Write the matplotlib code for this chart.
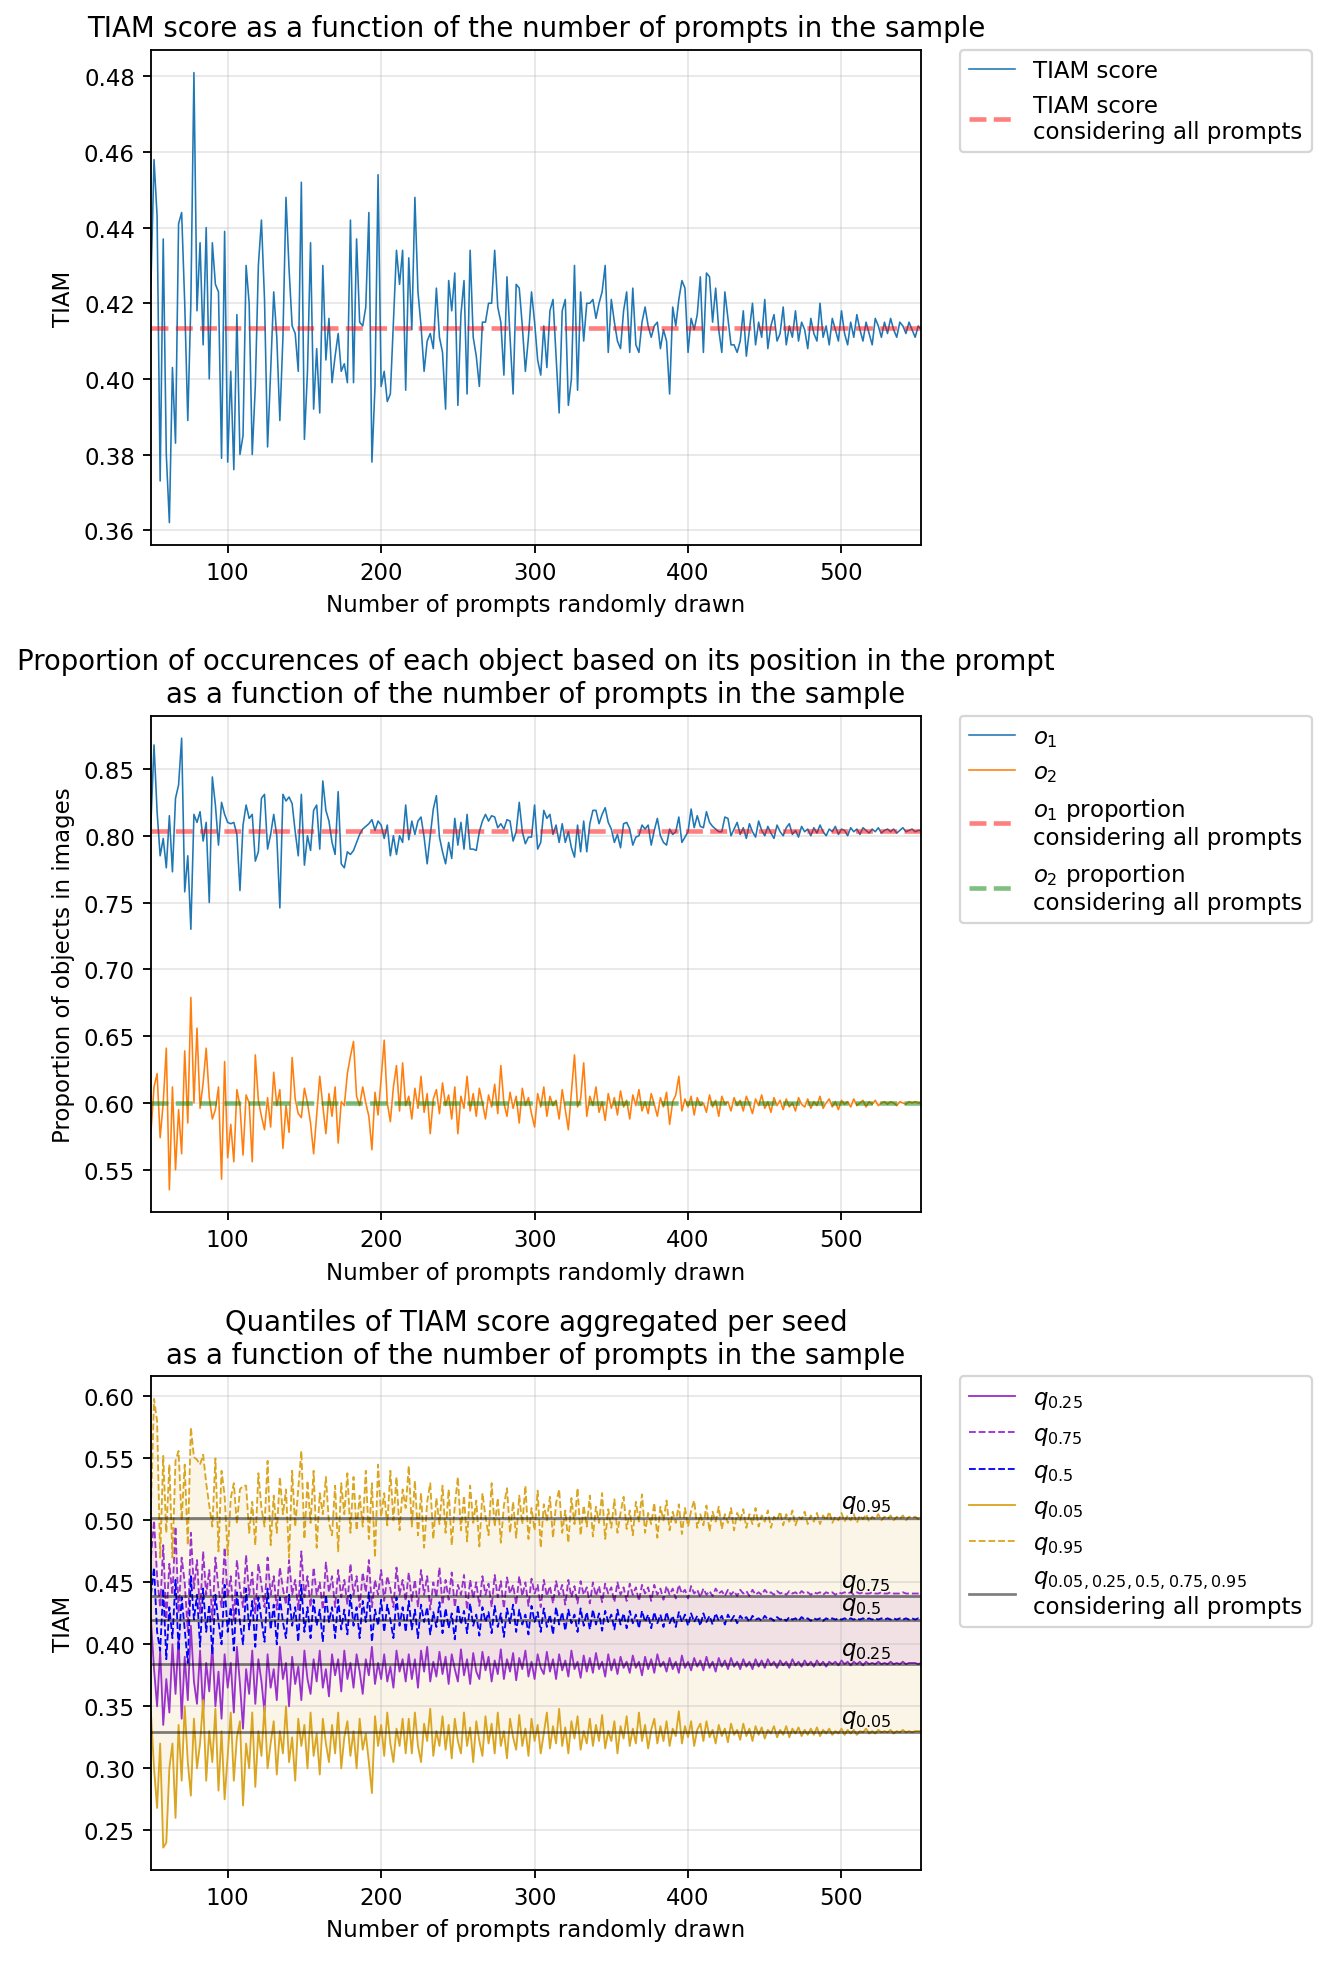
import numpy as np
import matplotlib
matplotlib.use("Agg")
import matplotlib.pyplot as plt

# === Data (one value every 2 prompts from 50) ===
START, STEP = 50, 2

tiam = [
    0.425, 0.458, 0.443, 0.373, 0.437, 0.380, 0.362, 0.403, 0.383, 0.441, 0.444, 0.420,
    0.389, 0.420, 0.481, 0.418, 0.436, 0.409, 0.440, 0.400, 0.436, 0.425, 0.423, 0.379,
    0.439, 0.378, 0.402, 0.376, 0.417, 0.380, 0.385, 0.430, 0.420, 0.380, 0.398, 0.430,
    0.442, 0.421, 0.382, 0.402, 0.423, 0.411, 0.389, 0.411, 0.448, 0.429, 0.414, 0.412,
    0.402, 0.452, 0.384, 0.402, 0.436, 0.392, 0.408, 0.391, 0.430, 0.405, 0.416, 0.399,
    0.406, 0.412, 0.402, 0.404, 0.399, 0.442, 0.399, 0.437, 0.415, 0.414, 0.419, 0.444,
    0.378, 0.398, 0.454, 0.398, 0.402, 0.394, 0.396, 0.415, 0.434, 0.425, 0.434, 0.397,
    0.432, 0.413, 0.448, 0.423, 0.414, 0.402, 0.410, 0.412, 0.408, 0.424, 0.411, 0.407,
    0.392, 0.426, 0.418, 0.428, 0.393, 0.417, 0.426, 0.396, 0.434, 0.411, 0.406, 0.398,
    0.415, 0.415, 0.420, 0.420, 0.434, 0.419, 0.415, 0.401, 0.427, 0.411, 0.396, 0.425,
    0.424, 0.414, 0.402, 0.411, 0.423, 0.415, 0.405, 0.401, 0.414, 0.403, 0.418, 0.421,
    0.406, 0.391, 0.418, 0.421, 0.393, 0.400, 0.430, 0.397, 0.423, 0.410, 0.420, 0.420,
    0.421, 0.416, 0.420, 0.423, 0.430, 0.407, 0.421, 0.415, 0.410, 0.408, 0.418, 0.423,
    0.407, 0.424, 0.409, 0.407, 0.415, 0.419, 0.414, 0.411, 0.414, 0.415, 0.408, 0.413,
    0.410, 0.396, 0.419, 0.414, 0.421, 0.426, 0.424, 0.407, 0.416, 0.413, 0.417, 0.427,
    0.407, 0.428, 0.427, 0.415, 0.424, 0.413, 0.407, 0.423, 0.416, 0.409, 0.409, 0.407,
    0.410, 0.418, 0.406, 0.413, 0.420, 0.409, 0.415, 0.411, 0.421, 0.408, 0.414, 0.417,
    0.410, 0.412, 0.419, 0.409, 0.414, 0.411, 0.418, 0.410, 0.415, 0.413, 0.408, 0.416,
    0.412, 0.410, 0.420, 0.411, 0.414, 0.409, 0.416, 0.413, 0.410, 0.418, 0.412, 0.409,
    0.415, 0.411, 0.417, 0.413, 0.410, 0.415, 0.412, 0.409, 0.416, 0.414, 0.411, 0.415,
    0.412, 0.416, 0.413, 0.411, 0.415, 0.414, 0.412, 0.415, 0.413, 0.411, 0.414, 0.413,
]
tiam_all = 0.4135

o1 = [
    0.810, 0.868, 0.818, 0.785, 0.798, 0.776, 0.815, 0.773, 0.828, 0.838, 0.873, 0.758,
    0.785, 0.730, 0.816, 0.810, 0.818, 0.796, 0.810, 0.750, 0.844, 0.823, 0.793, 0.825,
    0.816, 0.810, 0.809, 0.810, 0.801, 0.759, 0.808, 0.823, 0.813, 0.816, 0.781, 0.788,
    0.828, 0.831, 0.790, 0.801, 0.816, 0.800, 0.746, 0.831, 0.826, 0.829, 0.824, 0.803,
    0.785, 0.831, 0.778, 0.800, 0.789, 0.819, 0.823, 0.790, 0.841, 0.819, 0.811, 0.795,
    0.786, 0.833, 0.779, 0.776, 0.788, 0.786, 0.789, 0.795, 0.801, 0.805, 0.807, 0.809,
    0.812, 0.804, 0.811, 0.808, 0.798, 0.808, 0.785, 0.800, 0.786, 0.800, 0.795, 0.823,
    0.797, 0.811, 0.801, 0.811, 0.814, 0.799, 0.779, 0.800, 0.820, 0.830, 0.799, 0.788,
    0.779, 0.795, 0.783, 0.813, 0.793, 0.810, 0.790, 0.816, 0.790, 0.790, 0.789, 0.803,
    0.811, 0.816, 0.811, 0.815, 0.814, 0.806, 0.809, 0.805, 0.812, 0.811, 0.796, 0.803,
    0.825, 0.803, 0.794, 0.799, 0.799, 0.823, 0.790, 0.795, 0.819, 0.813, 0.816, 0.801,
    0.808, 0.795, 0.809, 0.795, 0.803, 0.791, 0.784, 0.808, 0.788, 0.811, 0.788, 0.809,
    0.819, 0.819, 0.809, 0.816, 0.821, 0.810, 0.805, 0.795, 0.801, 0.791, 0.809, 0.810,
    0.805, 0.793, 0.799, 0.800, 0.808, 0.805, 0.808, 0.793, 0.804, 0.813, 0.800, 0.795,
    0.793, 0.805, 0.801, 0.803, 0.814, 0.795, 0.799, 0.803, 0.820, 0.806, 0.815, 0.807,
    0.806, 0.818, 0.810, 0.807, 0.805, 0.803, 0.803, 0.814, 0.813, 0.800, 0.805, 0.810,
    0.801, 0.806, 0.798, 0.809, 0.803, 0.799, 0.811, 0.804, 0.800, 0.807, 0.802, 0.798,
    0.808, 0.803, 0.800, 0.806, 0.809, 0.801, 0.804, 0.799, 0.807, 0.803, 0.805, 0.800,
    0.806, 0.802, 0.808, 0.803, 0.800, 0.805, 0.803, 0.807, 0.801, 0.805, 0.804, 0.800,
    0.806, 0.803, 0.805, 0.801, 0.806, 0.804, 0.802, 0.805, 0.803, 0.806, 0.802, 0.804,
    0.805, 0.803, 0.805, 0.802, 0.804, 0.806, 0.803, 0.804, 0.805, 0.803, 0.804, 0.804,
]
o2 = [
    0.578, 0.612, 0.622, 0.574, 0.600, 0.641, 0.535, 0.612, 0.550, 0.595, 0.562, 0.639,
    0.585, 0.679, 0.600, 0.656, 0.596, 0.615, 0.641, 0.604, 0.588, 0.595, 0.612, 0.543,
    0.631, 0.559, 0.584, 0.556, 0.610, 0.598, 0.561, 0.606, 0.600, 0.556, 0.636, 0.602,
    0.590, 0.580, 0.604, 0.582, 0.623, 0.598, 0.610, 0.566, 0.598, 0.578, 0.634, 0.603,
    0.592, 0.589, 0.611, 0.600, 0.585, 0.562, 0.591, 0.620, 0.598, 0.577, 0.607, 0.590,
    0.612, 0.570, 0.601, 0.598, 0.622, 0.635, 0.646, 0.605, 0.598, 0.612, 0.600, 0.590,
    0.565, 0.608, 0.591, 0.618, 0.647, 0.600, 0.586, 0.612, 0.628, 0.594, 0.630, 0.598,
    0.605, 0.588, 0.611, 0.596, 0.620, 0.593, 0.607, 0.577, 0.603, 0.610, 0.592, 0.615,
    0.598, 0.606, 0.588, 0.612, 0.577, 0.605, 0.596, 0.620, 0.594, 0.607, 0.590, 0.611,
    0.600, 0.588, 0.606, 0.597, 0.614, 0.592, 0.628, 0.600, 0.590, 0.608, 0.596, 0.605,
    0.585, 0.611, 0.598, 0.604, 0.592, 0.582, 0.607, 0.597, 0.612, 0.590, 0.605, 0.598,
    0.602, 0.588, 0.610, 0.595, 0.580, 0.608, 0.636, 0.597, 0.603, 0.630, 0.590, 0.605,
    0.598, 0.612, 0.593, 0.601, 0.587, 0.607, 0.596, 0.604, 0.591, 0.609, 0.597, 0.602,
    0.588, 0.606, 0.598, 0.610, 0.594, 0.601, 0.592, 0.607, 0.599, 0.590, 0.604, 0.597,
    0.608, 0.584, 0.601, 0.606, 0.620, 0.594, 0.603, 0.597, 0.605, 0.591, 0.604, 0.598,
    0.600, 0.593, 0.606, 0.597, 0.602, 0.590, 0.605, 0.599, 0.601, 0.594, 0.604, 0.598,
    0.602, 0.594, 0.605, 0.599, 0.592, 0.603, 0.598, 0.606, 0.596, 0.601, 0.593, 0.604,
    0.598, 0.602, 0.595, 0.603, 0.597, 0.600, 0.594, 0.604, 0.599, 0.597, 0.603, 0.596,
    0.601, 0.598, 0.605, 0.596, 0.600, 0.603, 0.597, 0.601, 0.595, 0.602, 0.599, 0.601,
    0.597, 0.603, 0.598, 0.600, 0.602, 0.597, 0.601, 0.599, 0.602, 0.598, 0.600, 0.601,
    0.599, 0.601, 0.600, 0.598, 0.601, 0.600, 0.599, 0.601, 0.600, 0.601, 0.600, 0.600,
]
o1_all = 0.8035
o2_all = 0.600

q05 = [
    0.345, 0.300, 0.268, 0.320, 0.236, 0.240, 0.300, 0.320, 0.260, 0.335, 0.290, 0.350,
    0.305, 0.278, 0.340, 0.300, 0.320, 0.355, 0.290, 0.330, 0.305, 0.348, 0.282, 0.330,
    0.275, 0.310, 0.345, 0.290, 0.325, 0.338, 0.270, 0.320, 0.300, 0.345, 0.285, 0.330,
    0.310, 0.350, 0.300, 0.320, 0.338, 0.295, 0.330, 0.312, 0.350, 0.305, 0.325, 0.290,
    0.340, 0.318, 0.335, 0.300, 0.345, 0.310, 0.328, 0.295, 0.340, 0.320, 0.305, 0.335,
    0.312, 0.345, 0.300, 0.325, 0.338, 0.310, 0.330, 0.300, 0.340, 0.315, 0.328, 0.305,
    0.280, 0.342, 0.318, 0.335, 0.310, 0.345, 0.320, 0.305, 0.332, 0.318, 0.340, 0.312,
    0.340, 0.312, 0.345, 0.318, 0.305, 0.336, 0.322, 0.348, 0.310, 0.330, 0.318, 0.342,
    0.315, 0.335, 0.308, 0.340, 0.322, 0.312, 0.345, 0.318, 0.333, 0.305, 0.338, 0.322,
    0.310, 0.342, 0.320, 0.336, 0.312, 0.345, 0.318, 0.330, 0.308, 0.340, 0.325, 0.315,
    0.343, 0.318, 0.332, 0.310, 0.340, 0.322, 0.335, 0.312, 0.328, 0.345, 0.316, 0.334,
    0.320, 0.348, 0.318, 0.333, 0.312, 0.338, 0.324, 0.342, 0.315, 0.330, 0.320, 0.340,
    0.318, 0.335, 0.322, 0.343, 0.316, 0.330, 0.322, 0.338, 0.312, 0.334, 0.324, 0.342,
    0.318, 0.332, 0.320, 0.345, 0.322, 0.335, 0.316, 0.331, 0.340, 0.320, 0.334, 0.322,
    0.338, 0.318, 0.332, 0.326, 0.346, 0.320, 0.334, 0.325, 0.338, 0.318, 0.331, 0.336,
    0.322, 0.338, 0.325, 0.331, 0.320, 0.335, 0.326, 0.332, 0.321, 0.336, 0.327, 0.331,
    0.323, 0.336, 0.326, 0.332, 0.322, 0.334, 0.327, 0.333, 0.324, 0.331, 0.328, 0.334,
    0.325, 0.331, 0.327, 0.334, 0.325, 0.332, 0.328, 0.333, 0.326, 0.331, 0.327, 0.332,
    0.327, 0.333, 0.326, 0.331, 0.328, 0.332, 0.327, 0.330, 0.328, 0.332, 0.327, 0.331,
    0.328, 0.331, 0.327, 0.330, 0.329, 0.332, 0.328, 0.330, 0.328, 0.331, 0.329, 0.330,
    0.329, 0.331, 0.328, 0.330, 0.329, 0.331, 0.329, 0.330, 0.329, 0.330, 0.330, 0.330,
]
q25 = [
    0.420, 0.380, 0.350, 0.395, 0.335, 0.372, 0.345, 0.400, 0.360, 0.405, 0.340, 0.390,
    0.355, 0.415, 0.370, 0.352, 0.395, 0.345, 0.385, 0.362, 0.400, 0.350, 0.378, 0.340,
    0.392, 0.365, 0.385, 0.345, 0.398, 0.368, 0.332, 0.380, 0.360, 0.395, 0.352, 0.388,
    0.370, 0.345, 0.392, 0.365, 0.380, 0.355, 0.398, 0.372, 0.385, 0.350, 0.390, 0.368,
    0.382, 0.355, 0.395, 0.372, 0.360, 0.388, 0.370, 0.395, 0.365, 0.380, 0.358, 0.392,
    0.375, 0.388, 0.362, 0.395, 0.372, 0.385, 0.365, 0.392, 0.378, 0.360, 0.388, 0.375,
    0.398, 0.368, 0.385, 0.372, 0.392, 0.370, 0.382, 0.365, 0.395, 0.378, 0.388, 0.370,
    0.392, 0.372, 0.388, 0.365, 0.395, 0.378, 0.398, 0.370, 0.386, 0.374, 0.394, 0.376,
    0.390, 0.368, 0.392, 0.380, 0.370, 0.396, 0.375, 0.388, 0.368, 0.393, 0.378, 0.372,
    0.394, 0.379, 0.390, 0.370, 0.387, 0.376, 0.396, 0.372, 0.388, 0.378, 0.393, 0.371,
    0.389, 0.380, 0.395, 0.374, 0.386, 0.372, 0.392, 0.381, 0.376, 0.394, 0.378, 0.388,
    0.372, 0.392, 0.379, 0.387, 0.374, 0.395, 0.380, 0.386, 0.373, 0.391, 0.378, 0.389,
    0.377, 0.393, 0.380, 0.386, 0.374, 0.392, 0.379, 0.388, 0.376, 0.390, 0.381, 0.386,
    0.377, 0.391, 0.381, 0.386, 0.375, 0.390, 0.380, 0.388, 0.377, 0.392, 0.382, 0.386,
    0.378, 0.389, 0.380, 0.386, 0.377, 0.391, 0.381, 0.386, 0.379, 0.389, 0.382, 0.387,
    0.379, 0.390, 0.381, 0.386, 0.378, 0.389, 0.382, 0.387, 0.380, 0.389, 0.382, 0.386,
    0.380, 0.388, 0.382, 0.386, 0.380, 0.388, 0.382, 0.387, 0.381, 0.388, 0.383, 0.386,
    0.381, 0.387, 0.383, 0.386, 0.381, 0.388, 0.383, 0.386, 0.382, 0.387, 0.383, 0.386,
    0.382, 0.387, 0.383, 0.386, 0.382, 0.386, 0.384, 0.386, 0.383, 0.387, 0.384, 0.386,
    0.383, 0.386, 0.384, 0.386, 0.383, 0.386, 0.384, 0.385, 0.384, 0.386, 0.384, 0.385,
    0.384, 0.386, 0.384, 0.385, 0.384, 0.386, 0.384, 0.385, 0.385, 0.385, 0.384, 0.385,
]
q50 = [
    0.440, 0.462, 0.410, 0.395, 0.445, 0.388, 0.430, 0.405, 0.452, 0.395, 0.438, 0.412,
    0.385, 0.455, 0.420, 0.440, 0.398, 0.445, 0.410, 0.432, 0.392, 0.440, 0.418, 0.400,
    0.448, 0.410, 0.430, 0.395, 0.442, 0.418, 0.400, 0.445, 0.412, 0.435, 0.398, 0.438,
    0.420, 0.402, 0.445, 0.412, 0.432, 0.400, 0.438, 0.418, 0.405, 0.440, 0.415, 0.430,
    0.402, 0.448, 0.410, 0.430, 0.405, 0.436, 0.415, 0.428, 0.402, 0.440, 0.418, 0.430,
    0.405, 0.436, 0.412, 0.428, 0.408, 0.440, 0.415, 0.430, 0.405, 0.435, 0.418, 0.442,
    0.402, 0.428, 0.415, 0.436, 0.410, 0.432, 0.420, 0.405, 0.438, 0.415, 0.430, 0.410,
    0.435, 0.412, 0.428, 0.405, 0.432, 0.418, 0.430, 0.408, 0.426, 0.414, 0.434, 0.409,
    0.429, 0.413, 0.425, 0.404, 0.432, 0.416, 0.427, 0.409, 0.433, 0.415, 0.424, 0.407,
    0.430, 0.418, 0.426, 0.409, 0.431, 0.414, 0.425, 0.406, 0.429, 0.417, 0.432, 0.410,
    0.428, 0.416, 0.424, 0.408, 0.431, 0.418, 0.426, 0.410, 0.429, 0.414, 0.424, 0.408,
    0.430, 0.416, 0.426, 0.411, 0.428, 0.417, 0.424, 0.410, 0.429, 0.415, 0.426, 0.412,
    0.428, 0.416, 0.425, 0.411, 0.427, 0.418, 0.424, 0.412, 0.428, 0.416, 0.425, 0.413,
    0.427, 0.417, 0.424, 0.413, 0.427, 0.418, 0.424, 0.413, 0.426, 0.417, 0.424, 0.414,
    0.426, 0.417, 0.423, 0.414, 0.426, 0.418, 0.424, 0.415, 0.425, 0.418, 0.423, 0.415,
    0.425, 0.418, 0.423, 0.416, 0.425, 0.419, 0.423, 0.416, 0.424, 0.419, 0.423, 0.417,
    0.423, 0.420, 0.422, 0.418, 0.423, 0.420, 0.421, 0.419, 0.423, 0.420, 0.421, 0.419,
    0.422, 0.420, 0.421, 0.419, 0.422, 0.420, 0.421, 0.419, 0.422, 0.420, 0.421, 0.419,
    0.421, 0.420, 0.421, 0.419, 0.421, 0.420, 0.421, 0.420, 0.421, 0.420, 0.421, 0.420,
    0.421, 0.420, 0.421, 0.420, 0.421, 0.420, 0.421, 0.420, 0.421, 0.420, 0.421, 0.420,
    0.421, 0.420, 0.421, 0.420, 0.421, 0.420, 0.421, 0.420, 0.421, 0.420, 0.421, 0.421,
]
q75 = [
    0.470, 0.500, 0.455, 0.430, 0.480, 0.420, 0.465, 0.440, 0.495, 0.425, 0.470, 0.450,
    0.410, 0.490, 0.445, 0.468, 0.425, 0.475, 0.440, 0.460, 0.420, 0.470, 0.445, 0.430,
    0.478, 0.438, 0.455, 0.420, 0.468, 0.445, 0.430, 0.472, 0.440, 0.458, 0.425, 0.465,
    0.448, 0.430, 0.470, 0.440, 0.455, 0.428, 0.462, 0.445, 0.432, 0.468, 0.440, 0.452,
    0.428, 0.475, 0.438, 0.455, 0.430, 0.462, 0.440, 0.450, 0.428, 0.466, 0.442, 0.455,
    0.430, 0.460, 0.438, 0.452, 0.432, 0.465, 0.440, 0.455, 0.430, 0.458, 0.442, 0.468,
    0.430, 0.452, 0.440, 0.460, 0.435, 0.455, 0.445, 0.430, 0.462, 0.440, 0.452, 0.435,
    0.458, 0.435, 0.452, 0.430, 0.460, 0.440, 0.455, 0.428, 0.450, 0.438, 0.462, 0.432,
    0.452, 0.436, 0.458, 0.430, 0.448, 0.440, 0.456, 0.428, 0.452, 0.437, 0.450, 0.431,
    0.455, 0.440, 0.449, 0.430, 0.456, 0.438, 0.451, 0.429, 0.454, 0.441, 0.448, 0.432,
    0.455, 0.439, 0.450, 0.431, 0.453, 0.441, 0.448, 0.430, 0.452, 0.439, 0.447, 0.433,
    0.451, 0.440, 0.448, 0.432, 0.452, 0.438, 0.447, 0.433, 0.451, 0.440, 0.446, 0.433,
    0.450, 0.439, 0.447, 0.434, 0.449, 0.441, 0.446, 0.434, 0.450, 0.440, 0.446, 0.435,
    0.449, 0.440, 0.446, 0.435, 0.448, 0.441, 0.446, 0.435, 0.448, 0.440, 0.445, 0.436,
    0.447, 0.440, 0.445, 0.437, 0.448, 0.441, 0.444, 0.437, 0.447, 0.441, 0.444, 0.438,
    0.445, 0.440, 0.443, 0.439, 0.445, 0.441, 0.443, 0.439, 0.444, 0.440, 0.443, 0.439,
    0.444, 0.441, 0.443, 0.439, 0.444, 0.440, 0.442, 0.440, 0.444, 0.441, 0.442, 0.440,
    0.443, 0.441, 0.442, 0.440, 0.443, 0.441, 0.442, 0.440, 0.443, 0.441, 0.442, 0.440,
    0.442, 0.441, 0.442, 0.440, 0.442, 0.441, 0.442, 0.440, 0.442, 0.441, 0.442, 0.441,
    0.442, 0.440, 0.442, 0.441, 0.442, 0.441, 0.441, 0.442, 0.441, 0.441, 0.442, 0.441,
    0.441, 0.442, 0.441, 0.441, 0.441, 0.442, 0.441, 0.441, 0.441, 0.441, 0.441, 0.441,
]
q95 = [
    0.510, 0.598, 0.580, 0.470, 0.552, 0.490, 0.545, 0.470, 0.548, 0.556, 0.500, 0.545,
    0.480, 0.575, 0.551, 0.549, 0.545, 0.553, 0.530, 0.512, 0.495, 0.550, 0.475, 0.540,
    0.520, 0.472, 0.518, 0.530, 0.497, 0.525, 0.528, 0.528, 0.490, 0.515, 0.480, 0.538,
    0.510, 0.495, 0.548, 0.480, 0.520, 0.490, 0.535, 0.505, 0.525, 0.470, 0.540, 0.495,
    0.525, 0.556, 0.485, 0.532, 0.498, 0.540, 0.478, 0.522, 0.505, 0.535, 0.498, 0.488,
    0.528, 0.475, 0.530, 0.505, 0.538, 0.490, 0.535, 0.492, 0.520, 0.495, 0.540, 0.485,
    0.530, 0.470, 0.545, 0.503, 0.522, 0.496, 0.540, 0.500, 0.535, 0.492, 0.525, 0.510,
    0.544, 0.495, 0.532, 0.488, 0.522, 0.478, 0.515, 0.530, 0.485, 0.518, 0.497, 0.528,
    0.490, 0.525, 0.480, 0.512, 0.535, 0.492, 0.520, 0.483, 0.528, 0.498, 0.516, 0.479,
    0.522, 0.503, 0.488, 0.530, 0.495, 0.518, 0.482, 0.512, 0.526, 0.490, 0.515, 0.486,
    0.520, 0.497, 0.528, 0.485, 0.510, 0.492, 0.524, 0.478, 0.513, 0.500, 0.519, 0.486,
    0.514, 0.525, 0.490, 0.508, 0.482, 0.518, 0.497, 0.526, 0.488, 0.512, 0.495, 0.520,
    0.487, 0.511, 0.498, 0.522, 0.485, 0.509, 0.494, 0.517, 0.490, 0.506, 0.519, 0.493,
    0.508, 0.488, 0.515, 0.499, 0.521, 0.490, 0.506, 0.497, 0.514, 0.486, 0.511, 0.500,
    0.516, 0.492, 0.507, 0.498, 0.513, 0.489, 0.510, 0.495, 0.508, 0.516, 0.494, 0.505,
    0.496, 0.512, 0.491, 0.507, 0.499, 0.511, 0.493, 0.505, 0.498, 0.510, 0.492, 0.506,
    0.500, 0.509, 0.494, 0.505, 0.497, 0.510, 0.495, 0.504, 0.499, 0.508, 0.494, 0.503,
    0.500, 0.507, 0.496, 0.505, 0.499, 0.508, 0.496, 0.503, 0.501, 0.507, 0.497, 0.504,
    0.499, 0.506, 0.497, 0.504, 0.500, 0.507, 0.498, 0.503, 0.500, 0.506, 0.499, 0.504,
    0.500, 0.505, 0.498, 0.504, 0.501, 0.505, 0.499, 0.503, 0.501, 0.505, 0.500, 0.503,
    0.501, 0.504, 0.500, 0.503, 0.501, 0.504, 0.500, 0.503, 0.502, 0.503, 0.501, 0.502,
]
# quantiles of the TIAM score over all prompts
q_all = {"0.05": 0.329, "0.25": 0.384, "0.5": 0.420, "0.75": 0.439, "0.95": 0.502}

XLABEL = "Number of prompts randomly drawn"
ALL_TXT = "considering all prompts"
DPI = 165


def xs(values):
    return np.arange(START, START + STEP * len(values), STEP)


plt.rcParams["font.family"] = "DejaVu Sans"

fig = plt.figure(figsize=(1330 / DPI, 1965 / DPI), dpi=DPI)
ax1 = fig.add_axes([0.1135, 0.7221, 0.5792, 0.2519])
ax2 = fig.add_axes([0.1135, 0.3825, 0.5792, 0.2528])
ax3 = fig.add_axes([0.1135, 0.0478, 0.5792, 0.2512])

legend_kw = dict(bbox_to_anchor=(1.05, 1), loc="upper left", borderaxespad=0)

# --- TIAM score ---
ax1.plot(xs(tiam), tiam, color="C0", lw=0.7, label="TIAM score")
ax1.axhline(tiam_all, color="red", ls="--", lw=2, alpha=0.5,
            label="TIAM score\n" + ALL_TXT)
ax1.set_title("TIAM score as a function of the number of prompts in the sample")
ax1.set_xlabel(XLABEL)
ax1.set_ylabel("TIAM")
ax1.legend(**legend_kw)

# --- object proportions ---
ax2.plot(xs(o1), o1, color="C0", lw=0.7, label="$o_1$")
ax2.plot(xs(o2), o2, color="C1", lw=0.7, label="$o_2$")
ax2.axhline(o1_all, color="red", ls="--", lw=2, alpha=0.5,
            label="$o_1$ proportion\n" + ALL_TXT)
ax2.axhline(o2_all, color="green", ls="--", lw=2, alpha=0.5,
            label="$o_2$ proportion\n" + ALL_TXT)
ax2.set_title("Proportion of occurences of each object based on its position in the prompt\n"
              "as a function of the number of prompts in the sample")
ax2.set_xlabel(XLABEL)
ax2.set_ylabel("Proportion of objects in images")
ax2.legend(**legend_kw)

# --- quantiles ---
x3 = xs(q25)
ax3.fill_between(x3, q05, q95, color="goldenrod", alpha=0.1, lw=0)
ax3.fill_between(x3, q25, q75, color="darkorchid", alpha=0.1, lw=0)
ax3.plot(x3, q25, color="darkorchid", lw=0.8, label="$q_{0.25}$")
ax3.plot(x3, q75, color="darkorchid", lw=0.8, ls="--", label="$q_{0.75}$")
ax3.plot(x3, q50, color="blue", lw=0.8, ls="--", label="$q_{0.5}$")
ax3.plot(x3, q05, color="goldenrod", lw=0.8, label="$q_{0.05}$")
ax3.plot(x3, q95, color="goldenrod", lw=0.8, ls="--", label="$q_{0.95}$")
for i, (name, val) in enumerate(q_all.items()):
    lab = "$q_{0.05, 0.25, 0.5, 0.75, 0.95}$\n" + ALL_TXT if i == 0 else None
    ax3.axhline(val, color="black", lw=1.2, alpha=0.5, label=lab)
    ax3.text(500, val + 0.002, "$q_{%s}$" % name, ha="left", va="bottom")
ax3.set_title("Quantiles of TIAM score aggregated per seed\n"
              "as a function of the number of prompts in the sample")
ax3.set_xlabel(XLABEL)
ax3.set_ylabel("TIAM")
ax3.legend(**legend_kw)

for ax in (ax1, ax2, ax3):
    ax.grid(True, alpha=0.3)
    ax.set_xlim(START, START + STEP * (len(tiam) - 1))

fig.savefig("out.png", dpi=DPI)
